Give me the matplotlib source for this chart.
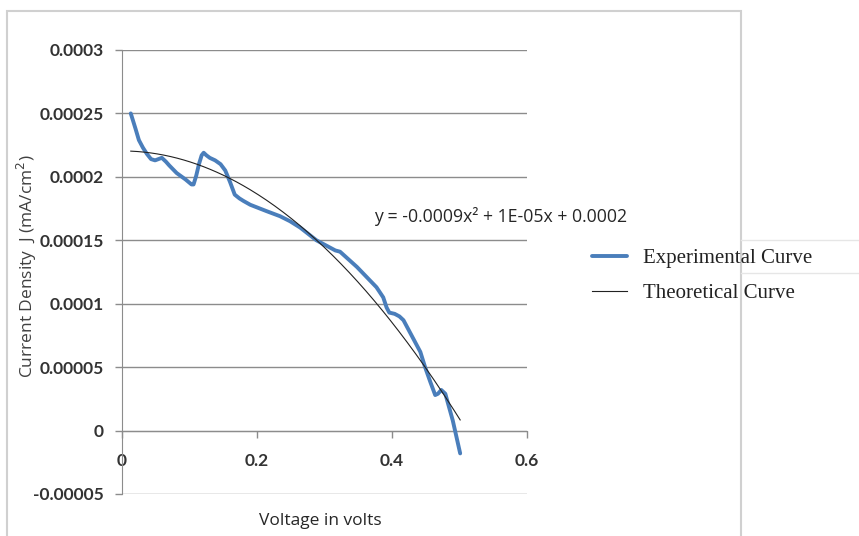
import matplotlib
matplotlib.use("Agg")
import matplotlib.pyplot as plt
import numpy as np
from matplotlib.lines import Line2D
from matplotlib.patches import Rectangle

# Experimental J-V readings (voltage in volts, current density in mA/cm^2)
voltage = [0.013, 0.020, 0.025, 0.031, 0.037, 0.043, 0.049, 0.054, 0.059,
           0.065, 0.070, 0.081, 0.094, 0.103, 0.106, 0.110, 0.114, 0.118,
           0.121, 0.125, 0.130, 0.138, 0.146, 0.153, 0.160, 0.167, 0.174,
           0.180, 0.190, 0.214, 0.234, 0.249, 0.264, 0.288, 0.316, 0.323,
           0.348, 0.377, 0.387, 0.392, 0.396, 0.404, 0.411, 0.417, 0.442,
           0.449, 0.457, 0.464, 0.468, 0.473, 0.479, 0.490, 0.501]
current = [0.000250, 0.000238, 0.000229, 0.000223, 0.000218, 0.000214,
           0.000213, 0.000214, 0.000215, 0.000212, 0.000209, 0.000203,
           0.000198, 0.000194, 0.000194, 0.000201, 0.000210, 0.000217,
           0.000219, 0.000217, 0.000215, 0.000213, 0.000210, 0.000205,
           0.000196, 0.000186, 0.000183, 0.000181, 0.000178, 0.000173,
           0.000169, 0.000165, 0.000160, 0.000150, 0.000142, 0.000141,
           0.000129, 0.000113, 0.000105, 0.000097, 0.000093, 0.000092,
           0.000090, 0.000087, 0.000062, 0.000050, 0.000038, 0.000028,
           0.000029, 0.000032, 0.000029, 0.000008, -0.000018]

yticks = [-0.00005, 0, 0.00005, 0.0001, 0.00015, 0.0002, 0.00025, 0.0003]
ytick_labels = ["-0.00005", "0", "0.00005", "0.0001", "0.00015", "0.0002",
                "0.00025", "0.0003"]
xticks = [0, 0.2, 0.4, 0.6]
xtick_labels = ["0", "0.2", "0.4", "0.6"]

BLUE = "#4a7ebb"
GRID = "#8c8c8c"

fig = plt.figure(figsize=(8.59, 5.36), dpi=100)
ax = fig.add_axes([122 / 859, 1 - 494 / 536, 405 / 859, 444 / 536])

# outer chart frame, legend sticking out on the right
fig.patches.append(Rectangle((7 / 859, -0.05), 734 / 859, 1.05 - 11 / 536,
                             transform=fig.transFigure, fill=False,
                             edgecolor="#d0d0d0", lw=1.5))
for yy in (240, 273):
    fig.add_artist(Line2D([741 / 859, 1], [1 - yy / 536] * 2,
                          transform=fig.transFigure, color="#e6e6e6", lw=1))

ax.plot(voltage, current, color=BLUE, lw=2.8, solid_capstyle="round",
        solid_joinstyle="round", label="Experimental Curve", zorder=3)

# Excel-style 2nd order trendline through the experimental points
coef = np.polyfit(voltage, current, 2)
vfit = np.linspace(voltage[0], voltage[-1], 200)
ax.plot(vfit, np.polyval(coef, vfit), color="#222222", lw=0.8,
        label="Theoretical Curve", zorder=4)

ax.set_xlim(0, 0.6)
ax.set_ylim(-0.00005, 0.0003)
ax.set_yticks(yticks)
ax.set_yticklabels(ytick_labels)
ax.set_xticks(xticks)
ax.set_xticklabels(xtick_labels)
ax.grid(axis="y", color=GRID, lw=1)
ax.set_axisbelow(True)

for s in ("top", "right"):
    ax.spines[s].set_visible(False)
ax.spines["bottom"].set_position(("data", 0))
ax.spines["bottom"].set_color(GRID)
ax.spines["left"].set_color(GRID)
ax.tick_params(axis="both", colors=GRID, length=5, width=1)
for lab in ax.get_xticklabels() + ax.get_yticklabels():
    lab.set_fontfamily("Lato")
    lab.set_fontweight("bold")
    lab.set_fontsize(12.5)
    lab.set_color("#333333")
ax.tick_params(axis="x", pad=11)
ax.tick_params(axis="y", pad=8)

fig.text(27 / 859, 1 - 266 / 536, "Current Density  J (mA/cm$^2$)",
         rotation=90, ha="center", va="center", fontsize=12.5,
         family="Open Sans", color="#404040")
fig.text(320 / 859, 1 - 521 / 536, "Voltage in volts", ha="center",
         va="center", fontsize=12.5, family="Open Sans", color="#262626")
fig.text(374 / 859, 1 - 217 / 536, "y = -0.0009x² + 1E-05x + 0.0002",
         ha="left", va="center", fontsize=12.7, family="Open Sans",
         color="#262626")

leg = fig.legend(loc="upper left", bbox_to_anchor=(577 / 859, 1 - 234 / 536),
                 frameon=False, handlelength=1.7, handletextpad=0.75,
                 labelspacing=0.75, borderpad=0.2,
                 prop={"family": "Liberation Serif", "size": 15})
for t in leg.get_texts():
    t.set_color("#222222")

fig.savefig("out.png", dpi=100)
